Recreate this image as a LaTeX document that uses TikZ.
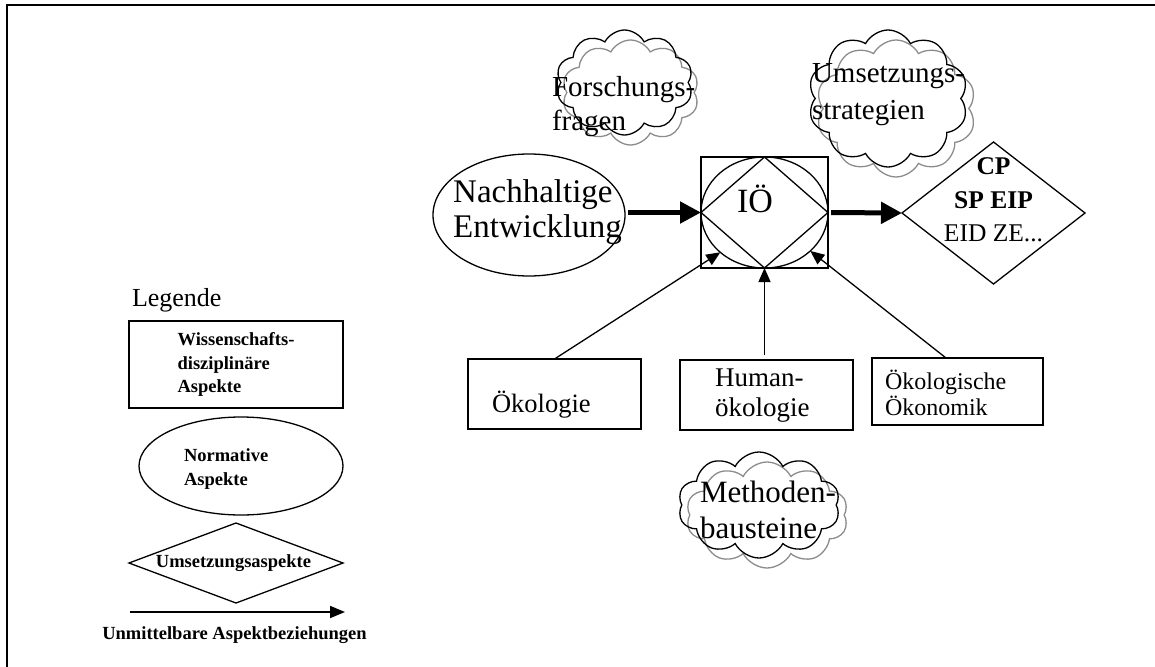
\documentclass[tikz,border=0pt]{standalone}
\usepackage{fontspec}
\setmainfont{Liberation Serif}
\usetikzlibrary{shapes.geometric,shapes.symbols,arrows.meta}
\newcommand\fsz[2]{\fontsize{#1}{#2}\selectfont}
\newcommand\lgdfont{\fontsize{18.5}{23.5}\selectfont\bfseries}
\begin{document}
\begin{tikzpicture}[x=1pt,y=-1pt,
  every node/.style={inner sep=0pt, outer sep=0pt},
  shp/.style={draw, line width=1.3pt},
  thinarrow/.style={line width=1.3pt, -{Triangle[length=14pt,width=12pt]}},
  legarrow/.style={line width=1.8pt, -{Triangle[length=15pt,width=12pt]}},
  thickarrow/.style={line width=5pt, -{Triangle[length=21pt,width=21pt]}},
  cloudblack/.style={cloud, cloud puffs=10, cloud puff arc=125, cloud ignores aspect, draw, line width=1.3pt},
  cloudgray/.style={cloudblack, draw=black!45}]
\useasboundingbox (0,0) rectangle (1155,666);
% outer frame
\draw[line width=2pt] (7,690) -- (7,5) -- (1180,5);

% legend
\node[anchor=base west, font=\fsz{26}{30}] (legt) at (132,306) {Legende};
\node[shp, rectangle, minimum width=214pt, minimum height=87pt, align=left, font=\lgdfont] (lrect) at (236,364.5) {Wissenschafts-\\disziplinäre\\Aspekte};
\node[shp, ellipse, minimum width=204pt, minimum height=98pt] (lell) at (241,466) {};
\node[anchor=west, align=left, font=\lgdfont] (lellt) at (184,469) {Normative\\Aspekte};
\node[shp, diamond, minimum width=214pt, minimum height=80pt] (ldia) at (236,563) {};
\node[font=\lgdfont] (ldiat) at (233.5,563) {Umsetzungsaspekte};
\coordinate (la1) at (130,612);
\coordinate (la2) at (345,612);
\draw[legarrow] (la1) -- (la2);
\node[font=\lgdfont] (lart) at (234.5,635) {Unmittelbare Aspektbeziehungen};

% clouds
\node[cloudgray, minimum width=137pt, minimum height=105pt] (fqg) at (630.5,92.5) {};
\node[cloudblack, minimum width=137pt, minimum height=105pt] (fq) at (624.5,82.5) {};
\node[anchor=west, align=left, font=\fsz{29}{34}] (fqt) at (552,106.5) {Forschungs-\\fragen};

\node[cloudgray, minimum width=160pt, minimum height=137pt] (usg) at (896,108.5) {};
\node[cloudblack, minimum width=160pt, minimum height=137pt] (us) at (888,98.5) {};
\node[anchor=west, align=left, font=\fsz{29}{37}] (ust) at (812,95) {Umsetzungs-\\strategien};

\node[cloudgray, minimum width=162pt, minimum height=106pt] (mbg) at (767,515) {};
\node[cloudblack, minimum width=162pt, minimum height=106pt] (mb) at (759,505) {};
\node[anchor=west, align=left, font=\fsz{31}{36}] (mbt) at (700,510) {Methoden-\\bausteine};

% normative aspect
\node[shp, ellipse, minimum width=192pt, minimum height=122pt] (ne) at (529,215) {};
\node[align=left, font=\fsz{33}{35}] (net) at (537.5,212) {Nachhaltige\\Entwicklung};

% central element
\node[shp, rectangle, minimum width=127pt, minimum height=111pt] (io) at (764.5,212.5) {};
\node[shp, ellipse, minimum width=127pt, minimum height=111pt] (ioc) at (io.center) {};
\draw[shp] (io.north) -- (io.east) -- (io.south) -- (io.west) -- cycle;
\node[font=\fsz{34}{36}] (iot) at (755,199) {IÖ};

% implementation aspects
\node[shp, diamond, minimum width=183pt, minimum height=142pt] (ud) at (993.5,213) {};
\node[align=center, font=\fsz{25.5}{33.5}] (udt) at (993.5,200) {\textbf{CP}\\\textbf{SP EIP}\\EID ZE...};

\draw[thickarrow, shorten <=3pt] (ne.east |- io.west) -- (io.west);
\draw[thickarrow, shorten <=3pt] (io.east) -- (ud.west);

% disciplines
\node[shp, minimum width=173pt, minimum height=70pt] (oek) at (554.5,394) {};
\node[anchor=base west, font=\fsz{26.5}{30}] (oekt) at (492,412) {Ökologie};
\node[shp, minimum width=173pt, minimum height=70pt] (hum) at (766.5,395) {};
\node[anchor=west, align=left, font=\fsz{27}{30}] (humt) at (715,396) {Human-\\ökologie};
\node[shp, minimum width=171pt, minimum height=67pt] (oko) at (957.5,391.5) {};
\node[anchor=west, align=left, font=\fsz{24}{26}] (okot) at (885,393) {Ökologische\\Ökonomik};

\draw[thinarrow] (oek.north) -- (ioc.222);
\draw[thinarrow, shorten <=5pt] (hum.north -| io.south) -- (io.south);
\draw[thinarrow] ([xshift=-11.5pt]oko.north) -- (ioc.320);
\end{tikzpicture}
\end{document}
